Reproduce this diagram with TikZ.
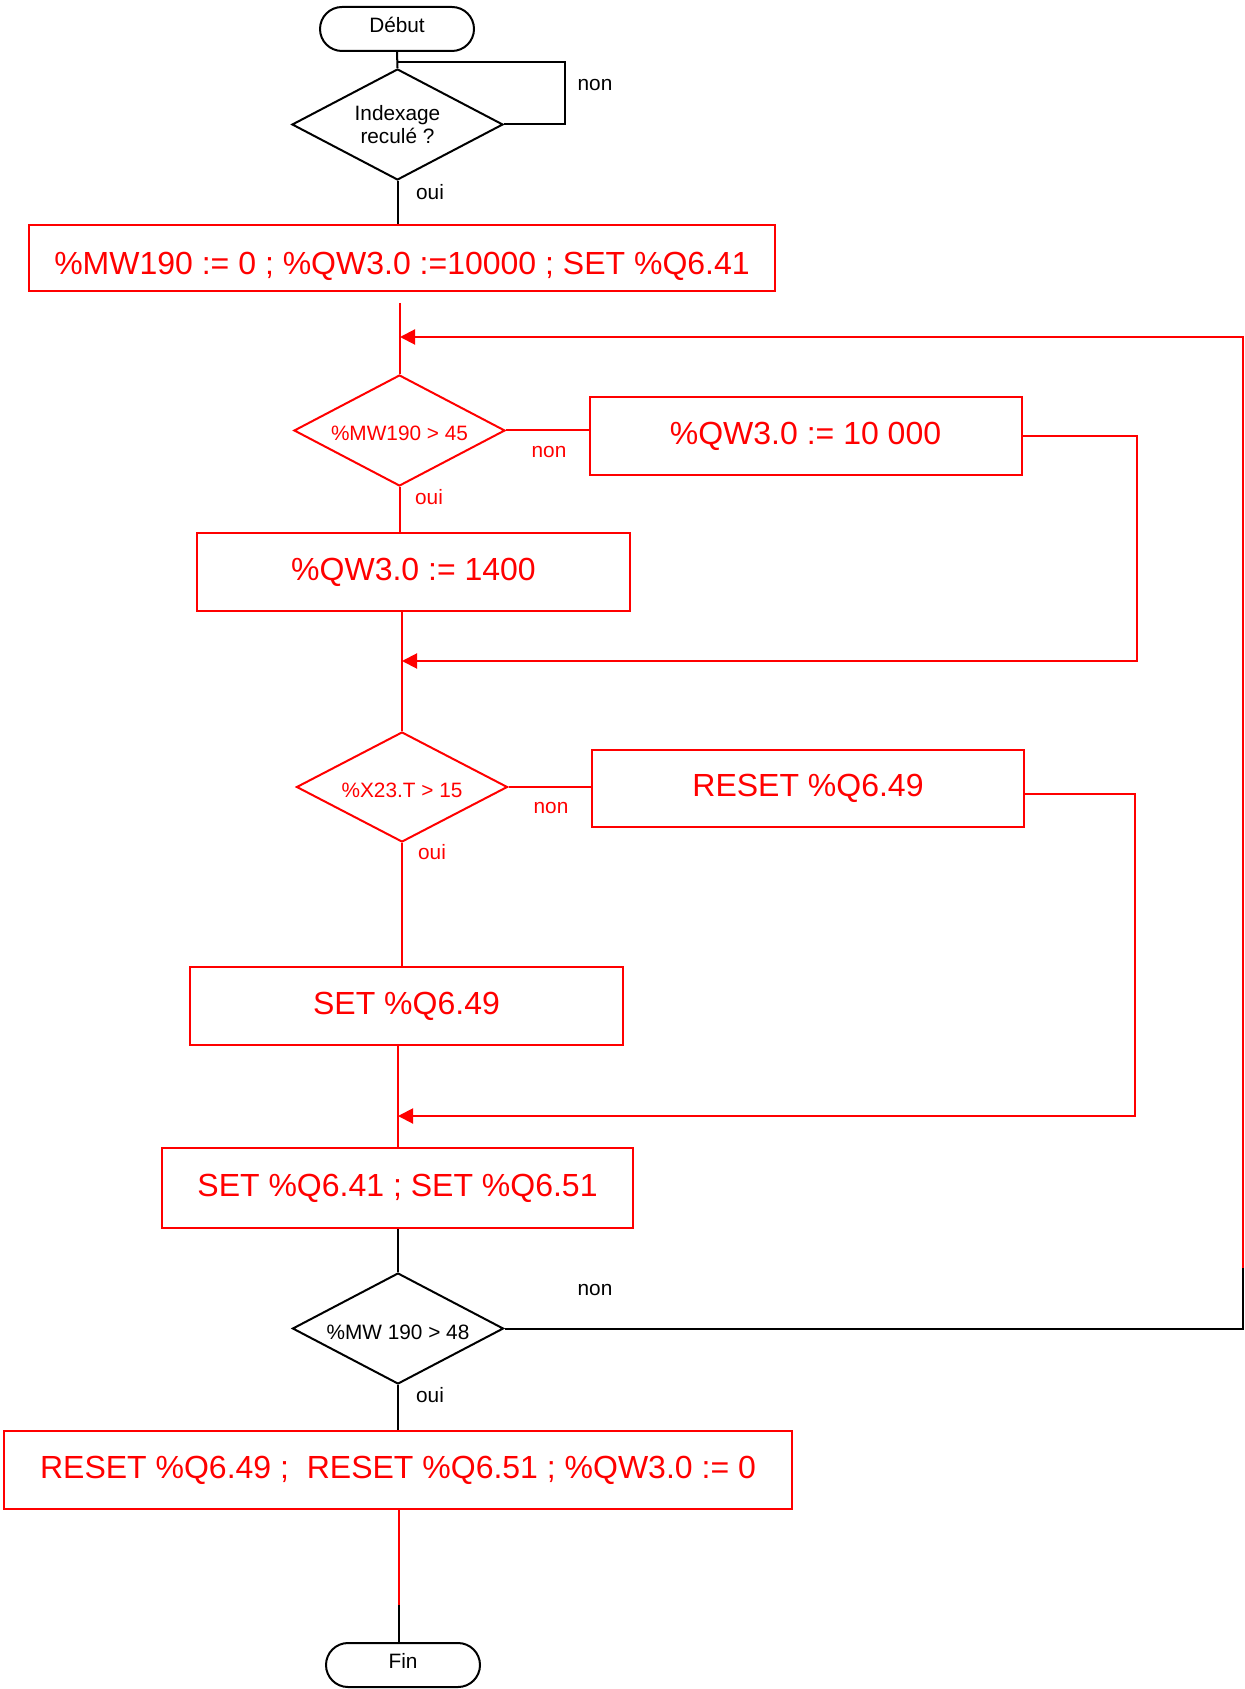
\documentclass[tikz,border=0pt]{standalone}
\usepackage{fontspec}
\setmainfont{Liberation Sans}
\usetikzlibrary{shapes.geometric,shapes.misc,arrows.meta}

\tikzset{
	flow/.style={line width=1pt},
	redflow/.style={flow, red},
	merge/.style={-{Triangle[length=7.5pt,width=7.5pt]}},
	termbox/.style={rounded rectangle, draw, flow, minimum width=77pt, minimum height=22pt, inner sep=0pt, text height=8pt, text depth=4.9pt, font=\fontsize{10.4}{12.5}\selectfont},
	decision/.style={diamond, aspect=1.9, draw, flow, minimum width=105.5pt, minimum height=55.5pt, inner sep=0pt, align=center, font=\fontsize{10.4}{11.5}\selectfont},
	oneline/.style={text height=10.5pt, text depth=0pt},
	reddecision/.style={decision, oneline, draw=red, text=red},
	opbox/.style={rectangle, draw=red, text=red, flow, inner sep=0pt, font=\fontsize{16}{19}\selectfont},
	branchtag/.style={inner sep=0pt, font=\fontsize{10.4}{12.5}\selectfont},
}

\begin{document}
\begin{tikzpicture}[x=0.5pt,y=-0.5pt]
	\useasboundingbox (0,0) rectangle (1244,1689);

	% steps, top to bottom
	\node[termbox] (debut) at (397,29) {Début};
	\node[decision] (indexage) at (397.5,124.5) {Indexage\\reculé ?};
	\node[opbox, minimum width=373pt, minimum height=33pt, text height=16.5pt, text depth=0pt] (init) at (402,258) {\%MW190 := 0 ; \%QW3.0 :=10000 ; SET \%Q6.41};

	\node[reddecision] (mw45) at (399.5,430.5) {\%MW190 > 45};
	\node[opbox, minimum width=216pt, minimum height=39pt] (qw10000) at (805.5,436) {\%QW3.0 := 10 000};
	\node[opbox, minimum width=216.5pt, minimum height=39pt] (qw1400) at (413.5,572) {\%QW3.0 := 1400};

	\node[reddecision, minimum height=55pt] (x23) at (402,787) {\%X23.T > 15};
	\node[opbox, minimum width=216pt, minimum height=38.5pt] (reset649) at (808,788.5) {RESET \%Q6.49};
	\node[opbox, minimum width=216.5pt, minimum height=39pt] (set649) at (406.5,1006) {SET \%Q6.49};

	\node[opbox, minimum width=235.5pt, minimum height=40pt] (set641) at (397.5,1188) {SET \%Q6.41 ; SET \%Q6.51};
	\node[decision, oneline] (mw48) at (398,1328.5) {\%MW 190 > 48};
	\node[opbox, minimum width=394pt, minimum height=39pt] (reset) at (398,1470) {RESET \%Q6.49 ;\ \ RESET \%Q6.51 ; \%QW3.0 := 0};
	\node[termbox] (fin) at (403,1665) {Fin};

	% join points
	\coordinate (wait) at (397,62);
	\coordinate (loopstart) at (399.5,303);
	\coordinate (merge0) at (400,337);
	\coordinate (merge1) at (402,661);
	\coordinate (merge2) at (398,1116);
	\coordinate (backup) at (1243,1268);
	\coordinate (finred) at (399,1605);

	% main line
	\draw[flow] (debut.south) -- (indexage.north);
	\draw[flow] (indexage.east) -- ++(61,0) |- (wait);
	\draw[flow] (indexage.south) -- (indexage.south |- init.north);
	\draw[redflow] (loopstart) -- (mw45.north);
	\draw[redflow] (mw45.south) -- (mw45.south |- qw1400.north);
	\draw[redflow] (mw45.east) -- (mw45.east -| qw10000.west);
	\draw[redflow] (x23.north |- qw1400.south) -- (x23.north);
	\draw[redflow] (x23.south) -- (x23.south |- set649.north);
	\draw[redflow] (x23.east) -- (x23.east -| reset649.west);
	\draw[redflow] (merge2 |- set649.south) -- (merge2 |- set641.north);
	\draw[flow] (merge2 |- set641.south) -- (mw48.north);
	\draw[flow] (mw48.south) -- (mw48.south |- reset.north);
	\draw[redflow] (finred |- reset.south) -- (finred);
	\draw[flow] (finred) -- (finred |- fin.north);

	% returns
	\draw[redflow, merge] (qw10000.east) -- ++(114,0) |- (merge1);
	\draw[redflow, merge] ([yshift=-2.5pt]reset649.east) -- ++(110,0) |- (merge2);
	\draw[flow] (mw48.east) -- (backup |- mw48.east) -- (backup);
	\draw[redflow, merge] (backup) |- (merge0);

	% branch labels
	\node[branchtag] (n1) at (595,85) {non};
	\node[branchtag] (o1) at (430,192) {oui};
	\node[branchtag, red] (n2) at (549,452) {non};
	\node[branchtag, red] (o2) at (429,497) {oui};
	\node[branchtag, red] (n3) at (551,808) {non};
	\node[branchtag, red] (o3) at (432,852) {oui};
	\node[branchtag] (n4) at (595,1290) {non};
	\node[branchtag] (o4) at (430,1395) {oui};
\end{tikzpicture}
\end{document}
